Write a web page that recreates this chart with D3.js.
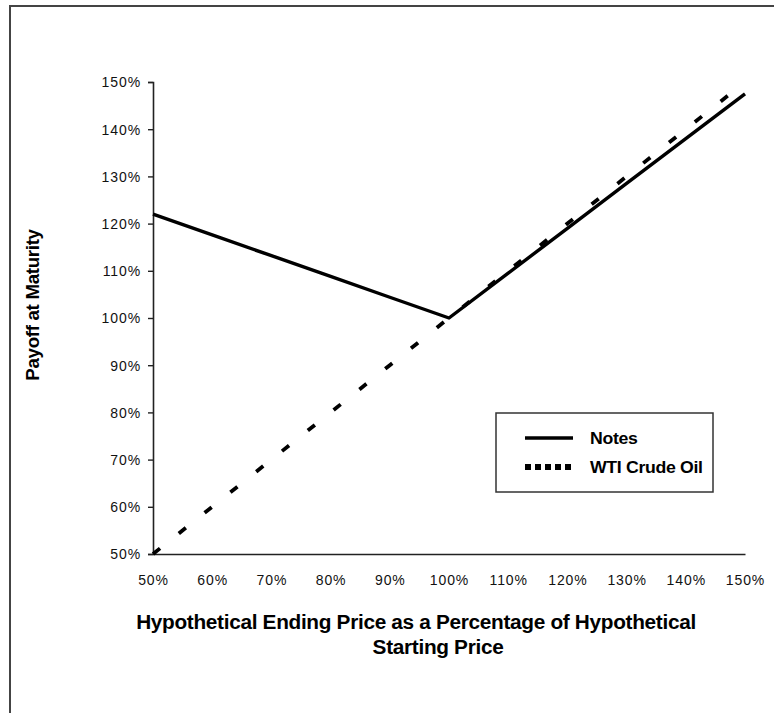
<!DOCTYPE html>
<html>
<head>
<meta charset="utf-8">
<script src="https://cdn.jsdelivr.net/npm/d3@7"></script>
<style>
  html, body { margin: 0; padding: 0; background: #fff; }
  svg { display: block; }
</style>
</head>
<body>
<svg id="chart" width="774" height="713"></svg>
<script>
// ---- data ----
const xValues = [50, 60, 70, 80, 90, 100, 110, 120, 130, 140, 150];
const notesValues = [122, 117.6, 113.2, 108.8, 104.4, 100, 109.5, 119, 128.5, 138, 147.5];
const wtiValues = [50, 60, 70, 80, 90, 100, 110, 120, 130, 140, 150];
const xTicks = [50, 60, 70, 80, 90, 100, 110, 120, 130, 140, 150];
const yTicks = [50, 60, 70, 80, 90, 100, 110, 120, 130, 140, 150];
const seriesNames = ["Notes", "WTI Crude Oil"];
const yTitle = "Payoff at Maturity";
const xTitleLines = ["Hypothetical Ending Price as a Percentage of Hypothetical", "Starting Price"];

const svg = d3.select("#chart");
const sans = "'Liberation Sans', Arial, sans-serif";

// outer frame
svg.append("rect").attr("x", 10).attr("y", 6).attr("width", 780).attr("height", 720)
  .attr("fill", "none").attr("stroke", "#444").attr("stroke-width", 2);

const plotLeft = 153, plotRight = 745, plotTop = 82, plotBottom = 554;
const x = d3.scaleLinear().domain([50, 150]).range([plotLeft, plotRight]);
const y = d3.scaleLinear().domain([50, 150]).range([plotBottom, plotTop]);

// axes
const yAxis = svg.append("g").attr("transform", `translate(${plotLeft},0)`)
  .call(d3.axisLeft(y).tickValues(yTicks).tickSize(5).tickPadding(7).tickFormat(d => d + "%"));
const xAxis = svg.append("g").attr("transform", `translate(0,${plotBottom})`)
  .call(d3.axisBottom(x).tickValues(xTicks).tickSize(0).tickPadding(21).tickFormat(d => d + "%"));
[yAxis, xAxis].forEach(g => {
  g.select(".domain").attr("stroke", "#222").attr("stroke-width", 1.6);
  g.selectAll(".tick line").attr("stroke", "#222").attr("stroke-width", 1.4);
  g.selectAll(".tick text").attr("font-family", sans).attr("font-size", 14)
    .attr("letter-spacing", 0.9).attr("fill", "#111");
});
yAxis.selectAll(".tick text").attr("dy", "0.35em");

// lines
const line = d3.line().x((d, i) => x(xValues[i])).y(d => y(d));
svg.append("path").datum(wtiValues).attr("d", line).attr("fill", "none")
  .attr("stroke", "#000").attr("stroke-width", 3.8).attr("stroke-dasharray", "9,24");
svg.append("path").datum(notesValues).attr("d", line).attr("fill", "none")
  .attr("stroke", "#000").attr("stroke-width", 3.4).attr("stroke-linejoin", "round");

// condensed bold text helper (narrow look via horizontal scale)
const titleSize = 20;
function narrowText(parent, txt, anchor) {
  return parent.append("text").attr("x", 0).attr("y", 0).attr("dy", "0.35em")
    .attr("text-anchor", anchor)
    .attr("font-family", sans).attr("font-weight", "bold").attr("font-size", titleSize)
    .attr("letter-spacing", -0.3).attr("fill", "#000").text(txt);
}
// measure the first title line to get the condensing factor
const probe = narrowText(svg, xTitleLines[0], "middle");
const k = 560 / probe.node().getComputedTextLength();
probe.remove();

// legend
const lg = svg.append("g");
lg.append("rect").attr("x", 496).attr("y", 413).attr("width", 217).attr("height", 79)
  .attr("fill", "#fff").attr("stroke", "#333").attr("stroke-width", 1.5);
const legendY = [438, 467];
const dashes = ["none", "6,4"];
seriesNames.forEach((name, i) => {
  lg.append("line").attr("x1", 525).attr("x2", 573).attr("y1", legendY[i]).attr("y2", legendY[i])
    .attr("stroke", "#000").attr("stroke-width", i === 0 ? 3.5 : 6)
    .attr("stroke-dasharray", dashes[i]);
  narrowText(lg, name, "start")
    .attr("font-size", 17)
    .attr("transform", `translate(590,${legendY[i]}) scale(${k},1)`);
});

// titles
narrowText(svg, yTitle, "middle")
  .attr("font-size", 18)
  .attr("transform", `translate(33,305) rotate(-90) scale(${k},1)`);
const titleCenters = [416, 438];
xTitleLines.forEach((t, i) => {
  narrowText(svg, t, "middle")
    .attr("transform", `translate(${titleCenters[i]},${622 + i * 25}) scale(${k},1)`);
});
</script>
</body>
</html>
